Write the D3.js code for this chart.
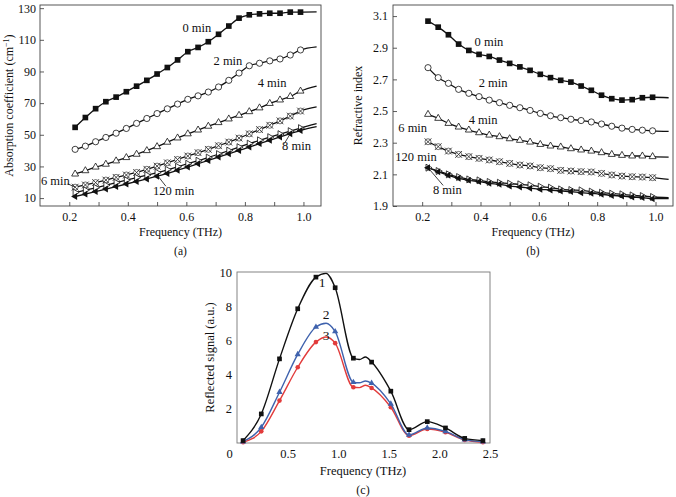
<!DOCTYPE html>
<html>
<head>
<meta charset="utf-8">
<script src="https://cdn.jsdelivr.net/npm/d3@7"></script>
<style>
  body { margin: 0; background: #fff; }
  svg text { font-family: "Liberation Serif", "Times New Roman", serif; }
</style>
</head>
<body>
<script>
var width = 676, height = 497;
var serif = '"Liberation Serif", "Times New Roman", serif';

// (a) and (b): sample frequencies in THz, the last one only ends the line (no marker)
var freqAB = [0.22, 0.255, 0.29, 0.325, 0.36, 0.395, 0.43, 0.465, 0.50, 0.535, 0.57, 0.605,
              0.64, 0.675, 0.71, 0.745, 0.78, 0.815, 0.85, 0.885, 0.92, 0.955, 0.99, 1.045];
var markerCount = 23;

// absorption coefficient, cm^-1
var abs0   = [54.7, 60.9, 66.5, 70.9, 73.8, 77.2, 80.7, 84.4, 88.4, 92.5, 97.3, 102.5,
              105.2, 108.8, 113.5, 118.7, 123.7, 125.8, 126.4, 126.8, 126.8, 127.5, 127.5, 127.6];
var abs2   = [40.8, 42.8, 45.6, 48.3, 51.0, 54.0, 57.2, 60.3, 63.4, 66.4, 69.4, 72.4,
              74.6, 77.0, 80.2, 84.4, 89.0, 93.6, 95.2, 96.7, 97.9, 100.4, 103.6, 105.6];
var abs4   = [25.2, 27.3, 29.6, 31.4, 33.5, 35.6, 37.7, 40.0, 42.5, 45.3, 48.0, 50.6,
              53.0, 55.4, 57.7, 60.0, 62.3, 64.6, 67.0, 69.8, 72.0, 74.2, 77.6, 80.8];
var abs6   = [16.9, 18.3, 19.8, 21.4, 23.1, 24.6, 26.2, 28.2, 30.2, 32.3, 34.4, 36.6,
              38.7, 40.8, 43.1, 45.4, 47.9, 50.6, 53.3, 56.0, 58.8, 61.8, 65.0, 67.6];
var abs8   = [11.0, 12.5, 14.1, 15.7, 17.3, 18.9, 20.5, 22.1, 23.8, 25.6, 27.6, 29.6,
              31.7, 33.8, 35.9, 38.0, 40.1, 42.2, 44.4, 46.5, 48.6, 50.7, 52.7, 55.1];
var abs120 = [13.5, 15.0, 16.5, 18.1, 19.7, 21.3, 22.9, 24.5, 26.1, 27.9, 29.8, 31.7,
              33.6, 35.6, 37.8, 40.0, 42.2, 44.4, 46.5, 48.5, 50.4, 52.3, 54.2, 57.0];

// refractive index
var ri0   = [3.068, 3.030, 2.982, 2.923, 2.883, 2.858, 2.845, 2.822, 2.801, 2.779, 2.757, 2.732,
             2.711, 2.694, 2.683, 2.658, 2.631, 2.600, 2.578, 2.569, 2.572, 2.584, 2.587, 2.584];
var ri2   = [2.774, 2.711, 2.675, 2.637, 2.612, 2.591, 2.569, 2.553, 2.536, 2.521, 2.504, 2.485,
             2.470, 2.458, 2.448, 2.440, 2.431, 2.418, 2.404, 2.392, 2.384, 2.379, 2.375, 2.371];
var ri4   = [2.479, 2.454, 2.422, 2.399, 2.380, 2.363, 2.348, 2.338, 2.325, 2.315, 2.304, 2.289,
             2.279, 2.273, 2.262, 2.254, 2.247, 2.237, 2.226, 2.220, 2.216, 2.216, 2.212, 2.209];
var ri6   = [2.306, 2.275, 2.247, 2.226, 2.212, 2.201, 2.191, 2.180, 2.169, 2.159, 2.153, 2.142,
             2.136, 2.125, 2.121, 2.117, 2.115, 2.106, 2.096, 2.089, 2.085, 2.083, 2.079, 2.068];
var ri8   = [2.142, 2.117, 2.094, 2.075, 2.062, 2.054, 2.043, 2.037, 2.026, 2.020, 2.012, 2.005,
             2.001, 1.995, 1.991, 1.984, 1.980, 1.974, 1.967, 1.963, 1.957, 1.953, 1.946, 1.946];
var ri120 = [2.142, 2.121, 2.100, 2.083, 2.068, 2.062, 2.052, 2.047, 2.041, 2.037, 2.031, 2.022,
             2.016, 2.005, 2.001, 1.999, 1.991, 1.984, 1.978, 1.974, 1.967, 1.963, 1.957, 1.953];

var xTicksAB = [0.2, 0.3, 0.4, 0.5, 0.6, 0.7, 0.8, 0.9, 1.0];
var absTicks = [10, 30, 50, 70, 90, 110, 130];
var riTicks = [1.9, 2.1, 2.3, 2.5, 2.7, 2.9, 3.1];

// (c) reflected signal: marker points, plus unmarked points
var freqC = [0.06, 0.24, 0.42, 0.60, 0.78, 0.97, 1.15, 1.33, 1.52, 1.70, 1.88, 2.06, 2.25, 2.43];
var sig1 = [0.14, 1.70, 4.92, 7.85, 9.70, 9.08, 4.96, 4.73, 3.03, 0.78, 1.25, 0.88, 0.27, 0.14];
var sig2 = [0.08, 0.92, 2.97, 5.18, 6.78, 6.52, 3.55, 3.50, 2.29, 0.47, 0.88, 0.68, 0.20, 0.08];
var sig3 = [0.04, 0.68, 2.48, 4.43, 5.90, 5.84, 3.26, 3.22, 2.09, 0.43, 0.82, 0.63, 0.18, 0.04];
var freqCx = [0.88, 1.21, 1.27];
var sig1x = [9.92, 4.88, 5.03];
var sig2x = [7.00, 3.52, 3.63];
var sig3x = [6.20, 3.24, 3.38];
var xTicksC = [0, 0.5, 1.0, 1.5, 2.0, 2.5];
var yTicksC = [2, 4, 6, 8, 10];

var svg = d3.select("body").append("svg")
    .attr("width", width)
    .attr("height", height);

function framePanel(p) {
    var x = d3.scaleLinear().domain(p.xDomain).range([p.left, p.right]);
    var y = d3.scaleLinear().domain(p.yDomain).range([p.bottom, p.top]);
    var gx = svg.append("g")
        .attr("transform", "translate(0," + p.bottom + ")")
        .call(d3.axisBottom(x).tickValues(p.xTicks).tickFormat(p.xFormat)
            .tickSize(p.tickSize).tickPadding(p.xPad));
    var gy = svg.append("g")
        .attr("transform", "translate(" + p.left + ",0)")
        .call(d3.axisLeft(y).tickValues(p.yTicks).tickFormat(p.yFormat)
            .tickSize(p.tickSize).tickPadding(p.yPad));
    [gx, gy].forEach(function (a) {
        a.attr("font-family", serif).attr("font-size", p.fontSize);
        a.select(".domain").remove();
        a.selectAll(".tick line").attr("stroke", "#333").attr("stroke-width", 0.8);
        a.selectAll(".tick text").attr("fill", "#111");
    });
    svg.append("rect")
        .attr("x", p.left).attr("y", p.top)
        .attr("width", p.right - p.left).attr("height", p.bottom - p.top)
        .attr("fill", "none").attr("stroke", p.frameColor).attr("stroke-width", 0.9);
    return { x: x, y: y, gx: gx };
}

function drawMarker(g, kind, cx, cy, color) {
    var m = g.append("g").attr("transform", "translate(" + cx + "," + cy + ")");
    var tri = d3.symbol(d3.symbolTriangle, 21)();
    if (kind === "square") {
        m.append("path").attr("d", d3.symbol(d3.symbolSquare, 32)()).attr("fill", color);
    } else if (kind === "smallSquare") {
        m.append("path").attr("d", d3.symbol(d3.symbolSquare, 22)()).attr("fill", color);
    } else if (kind === "dot") {
        m.append("circle").attr("r", 2.3).attr("fill", color);
    } else if (kind === "triFill") {
        m.append("path").attr("d", d3.symbol(d3.symbolTriangle, 17)()).attr("fill", color);
    } else if (kind === "circle") {
        m.append("circle").attr("r", 3.1).attr("fill", "#fff").attr("stroke", "#111").attr("stroke-width", 0.8);
    } else if (kind === "triUp") {
        m.append("path").attr("d", tri).attr("fill", "#fff").attr("stroke", "#111").attr("stroke-width", 0.8);
    } else if (kind === "crossCircle") {
        m.append("circle").attr("r", 3).attr("fill", "#fff").attr("stroke", "#333").attr("stroke-width", 0.7);
        m.append("path").attr("d", "M-3.4,-3.4L3.4,3.4M-3.4,3.4L3.4,-3.4").attr("stroke", "#222").attr("stroke-width", 0.8);
    } else if (kind === "triLeft") {
        m.append("path").attr("d", tri).attr("transform", "rotate(-90)").attr("fill", "#111");
    } else if (kind === "triRight") {
        m.append("path").attr("d", tri).attr("transform", "rotate(90)").attr("fill", "#fff")
            .attr("stroke", "#111").attr("stroke-width", 0.8);
    }
}

function addText(t, x, y, size, anchor, rotate) {
    var el = svg.append("text").text(t)
        .attr("font-size", size).attr("fill", "#111")
        .attr("text-anchor", anchor || "middle");
    if (rotate) el.attr("transform", "translate(" + x + "," + y + ") rotate(-90)");
    else el.attr("x", x).attr("y", y);
    return el;
}

var fmt1 = d3.format(".1f");
function evenTenth(d) { return Math.round(d * 10) % 2 === 0 ? fmt1(d) : ""; }

// ---------- panels (a) and (b) ----------
function drawTimePanel(p, series, labels, leaders) {
    var s = framePanel(p);
    var line = d3.line()
        .x(function (d, i) { return s.x(freqAB[i]); })
        .y(function (d) { return s.y(d); })
        .curve(d3.curveMonotoneX);
    var g = svg.append("g");
    series.forEach(function (ser) {
        g.append("path").attr("d", line(ser.values))
            .attr("fill", "none").attr("stroke", "#111").attr("stroke-width", 1.3);
    });
    series.forEach(function (ser) {
        ser.values.slice(0, markerCount).forEach(function (v, i) {
            drawMarker(g, ser.marker, s.x(freqAB[i]), s.y(v), "#111");
        });
    });
    labels.forEach(function (l) {
        addText(l.text, s.x(l.f), s.y(l.v), 12.5, l.anchor);
    });
    leaders.forEach(function (l) {
        svg.append("line")
            .attr("x1", s.x(l.f1)).attr("y1", s.y(l.v1))
            .attr("x2", s.x(l.f2)).attr("y2", s.y(l.v2))
            .attr("stroke", "#111").attr("stroke-width", 0.8);
    });
    return s;
}

var panelA = {
    left: 40, right: 321, top: 5, bottom: 206,
    xDomain: [0.1, 1.06], yDomain: [5, 132],
    xTicks: xTicksAB, yTicks: absTicks, xFormat: evenTenth, yFormat: d3.format("d"),
    tickSize: -4, xPad: 6, yPad: 4, fontSize: 12, frameColor: "#444"
};
drawTimePanel(panelA, [
    { values: abs0, marker: "square" },
    { values: abs2, marker: "circle" },
    { values: abs4, marker: "triUp" },
    { values: abs6, marker: "crossCircle" },
    { values: abs120, marker: "triRight" },
    { values: abs8, marker: "triLeft" }
], [
    { text: "0 min", f: 0.636, v: 114.9 },
    { text: "2 min", f: 0.742, v: 94.1 },
    { text: "4 min", f: 0.893, v: 80.2 },
    { text: "6 min", f: 0.103, v: 18.3, anchor: "start" },
    { text: "120 min", f: 0.486, v: 11.9, anchor: "start" },
    { text: "8 min", f: 0.927, v: 40.4, anchor: "start" }
], [
    { f1: 0.195, v1: 19.0, f2: freqAB[0], v2: abs6[0] },
    { f1: 0.53, v1: 17.5, f2: freqAB[8], v2: abs120[8] - 1.5 },
    { f1: 0.935, v1: 44.5, f2: freqAB[21], v2: abs8[21] }
]);

var panelB = {
    left: 393, right: 673, top: 5, bottom: 206,
    xDomain: [0.1, 1.06], yDomain: [1.9, 3.17],
    xTicks: xTicksAB, yTicks: riTicks, xFormat: evenTenth, yFormat: fmt1,
    tickSize: -4, xPad: 6, yPad: 5, fontSize: 12, frameColor: "#444"
};
drawTimePanel(panelB, [
    { values: ri0, marker: "square" },
    { values: ri2, marker: "circle" },
    { values: ri4, marker: "triUp" },
    { values: ri6, marker: "crossCircle" },
    { values: ri120, marker: "triRight" },
    { values: ri8, marker: "triLeft" }
], [
    { text: "0 min", f: 0.429, v: 2.911 },
    { text: "2 min", f: 0.443, v: 2.652 },
    { text: "4 min", f: 0.409, v: 2.418 },
    { text: "6 min", f: 0.118, v: 2.368, anchor: "start" },
    { text: "120 min", f: 0.108, v: 2.184, anchor: "start" },
    { text: "8 min", f: 0.237, v: 1.976, anchor: "start" }
], [
    { f1: 0.272, v1: 2.03, f2: freqAB[0], v2: ri8[0] }
]);

// axis titles (a), (b)
var yTitleA = addText("", 13, 105.5, 12, "middle", true);
yTitleA.append("tspan").text("Absorption coefficient (cm");
yTitleA.append("tspan").text("\u22121").attr("font-size", 8).attr("dy", -4);
yTitleA.append("tspan").text(")").attr("dy", 4);
addText("Frequency (THz)", 180.5, 236, 12);
addText("(a)", 180.5, 255, 11.5);

addText("Refractive index", 362, 105.5, 12, "middle", true);
addText("Frequency (THz)", 533, 236, 12);
addText("(b)", 533, 255, 11.5);

// ---------- panel (c) ----------
var panelC = {
    left: 237, right: 490, top: 272, bottom: 443,
    xDomain: [0, 2.5], yDomain: [0, 10],
    xTicks: xTicksC, yTicks: yTicksC,
    xFormat: function (d) { return d === 0 ? "0" : fmt1(d); }, yFormat: d3.format("d"),
    tickSize: 0, xPad: 6, yPad: 5, fontSize: 12.5, frameColor: "#777"
};
var sc = framePanel(panelC);
// the "0" sits left of the corner in the original
sc.gx.selectAll(".tick text").filter(function (d) { return d === 0; }).attr("dx", -8);

var lineC = d3.line()
    .x(function (d) { return sc.x(d[0]); })
    .y(function (d) { return sc.y(d[1]); })
    .curve(d3.curveMonotoneX);
var gc = svg.append("g");
[
    { values: sig3, extra: sig3x, color: "#e23b3b", marker: "dot" },
    { values: sig2, extra: sig2x, color: "#3f62ad", marker: "triFill" },
    { values: sig1, extra: sig1x, color: "#111111", marker: "smallSquare" }
].forEach(function (ser) {
    var pts = freqC.map(function (f, i) { return [f, ser.values[i]]; })
        .concat(freqCx.map(function (f, i) { return [f, ser.extra[i]]; }))
        .sort(function (a, b) { return a[0] - b[0]; });
    gc.append("path").attr("d", lineC(pts))
        .attr("fill", "none").attr("stroke", ser.color).attr("stroke-width", 1.4);
    ser.values.forEach(function (v, i) {
        drawMarker(gc, ser.marker, sc.x(freqC[i]), sc.y(v), ser.color);
    });
});
addText("1", sc.x(0.84), sc.y(9.12), 13.5);
addText("2", sc.x(0.88), sc.y(7.25), 13.5);
addText("3", sc.x(0.88), sc.y(6.02), 13.5);

addText("Reflected signal (a.u.)", 214, 357.5, 12.5, "middle", true);
addText("Frequency (THz)", 363, 475, 12.5);
addText("(c)", 363, 494, 12);
</script>
</body>
</html>
